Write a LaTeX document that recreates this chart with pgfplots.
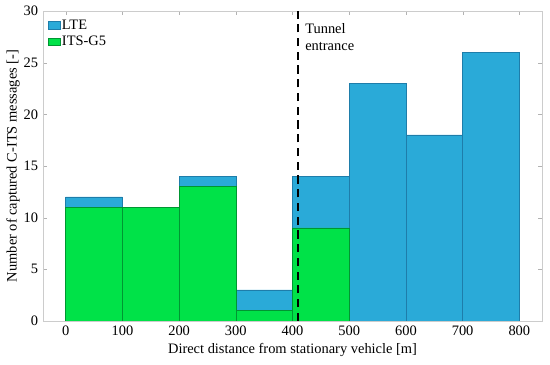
\documentclass[border=0pt]{standalone}
\usepackage{fontspec}
\setmainfont{Liberation Serif}
\usepackage{pgfplots}
\pgfplotsset{compat=1.18}
\definecolor{lte}{RGB}{42,170,216}
\definecolor{lteedge}{RGB}{30,125,170}
\definecolor{its}{RGB}{0,226,72}
\definecolor{itsedge}{RGB}{0,150,50}
\begin{document}
\begin{tikzpicture}
\begin{axis}[
  name=a,
  scale only axis,
  width=363pt, height=225.5pt,
  xmin=-40, xmax=840, ymin=0, ymax=30,
  xtick={0,100,...,800}, ytick={0,5,...,30},
  tick align=inside, tick pos=both,
  major tick length=3pt,
  axis line style={gray!40},
  tick style={gray!60},
  /pgf/number format/assume math mode=true,
  ticklabel style={font=\fontsize{10.5}{12}\selectfont},
  label style={font=\fontsize{10.5}{12}\selectfont},
  xlabel={Direct distance from stationary vehicle [m]},
  ylabel={Number of captured C-ITS messages [-]},
  xlabel style={yshift=1pt},
  ylabel style={yshift=-4pt},
  legend style={at={(0.006,0.985)}, anchor=north west, draw=none, fill=white,
    font=\fontsize{10.5}{12}\selectfont, inner sep=1pt, row sep=-0.5pt,
    nodes={inner xsep=1pt}},
  legend cell align=left,
  legend image code/.code={\fill[#1] (0pt,-2.5pt) rectangle (9pt,3pt);},
]
\addplot[ybar interval, fill=lte, draw=lteedge, line width=0.4pt]
  coordinates {(0,12)(100,11)(200,14)(300,3)(400,14)(500,23)(600,18)(700,26)(800,26)};
\addlegendentry{LTE}
\addplot[ybar interval, fill=its, draw=itsedge, line width=0.4pt]
  coordinates {(0,11)(100,11)(200,13)(300,1)(400,9)(500,9)};
\addlegendentry{ITS-G5}
\draw[black, line width=1.8pt, dash pattern=on 6pt off 4pt] (axis cs:410,0) -- (axis cs:410,30);
\node[anchor=north west, align=left, font=\fontsize{10.5}{12.5}\selectfont, inner sep=0pt]
  at (axis cs:422,28.8) {Tunnel\\entrance};
\end{axis}
\pgfresetboundingbox
\path ([shift={(-31.3pt,-32pt)}]a.south west) rectangle ([shift={(5.8pt,8pt)}]a.north east);
\end{tikzpicture}
\end{document}
